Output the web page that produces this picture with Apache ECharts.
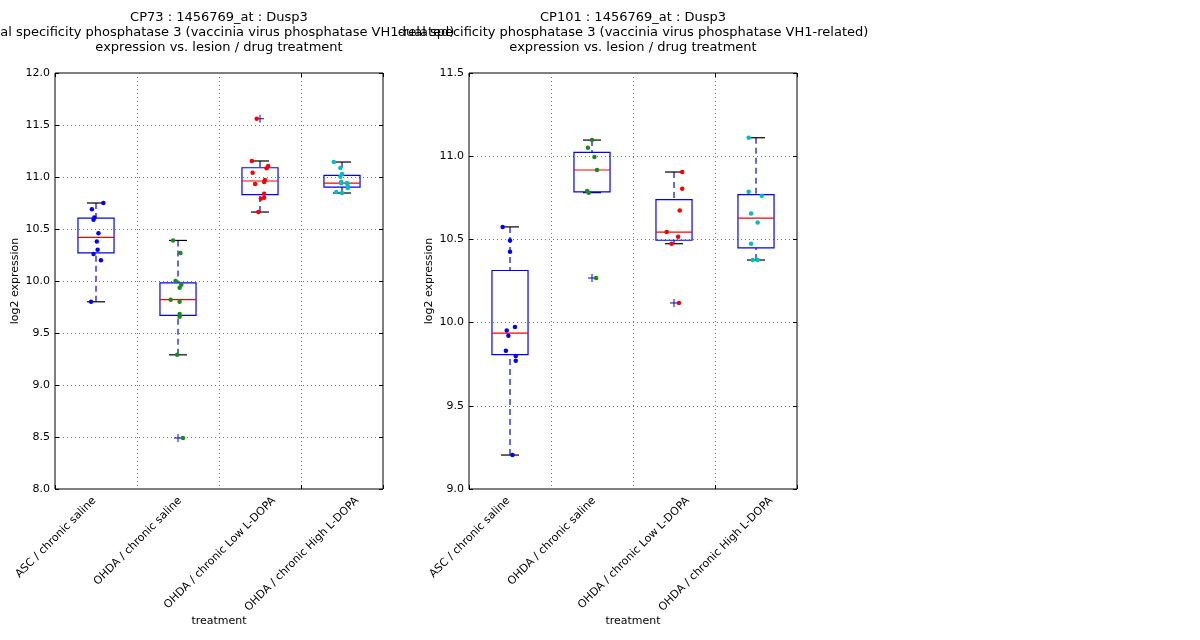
<!DOCTYPE html>
<html>
<head>
<meta charset="utf-8">
<script src="https://cdn.jsdelivr.net/npm/echarts@6/dist/echarts.min.js"></script>
<style>
  html, body { margin: 0; background: #fff; }
  #chart { width: 1200px; height: 640px; }
</style>
</head>
<body>
<div id="chart"></div>
<script>
const categories = ['ASC / chronic saline', 'OHDA / chronic saline', 'OHDA / chronic Low L-DOPA', 'OHDA / chronic High L-DOPA'];
const pointColors = ['#0000ff', '#1a8a1a', '#ff0000', '#00bfbf'];
const yTicksCp73 = [8, 12];
const yTicksCp101 = [9, 11.5];

// CP73 expression values, with horizontal jitter (fraction of a category)
const cp73Asc = [10.75, 10.69, 10.61, 10.59, 10.46, 10.38, 10.30, 10.26, 10.20, 9.80];
const cp73AscJit = [0.09, -0.05, -0.02, -0.03, 0.03, 0.01, 0.02, -0.03, 0.06, -0.06];
const cp73Saline = [10.39, 10.27, 10.00, 9.965, 9.935, 9.82, 9.80, 9.683, 9.657, 9.29, 8.49];
const cp73SalineJit = [-0.06, 0.03, -0.03, 0.04, 0.02, -0.09, 0.02, 0.02, 0.02, -0.01, 0.06];
const cp73Low = [11.56, 11.154, 11.106, 11.083, 11.042, 10.971, 10.952, 10.933, 10.84, 10.792, 10.80, 10.663];
const cp73LowJit = [-0.04, -0.10, 0.10, 0.08, -0.09, 0.06, 0.05, -0.06, 0.05, 0.01, 0.05, -0.02];
const cp73High = [11.144, 11.087, 11.029, 11.003, 10.955, 10.939, 10.942, 10.913, 10.894, 10.856, 10.846];
const cp73HighJit = [-0.10, -0.02, 0.0, -0.02, -0.01, -0.01, 0.06, 0.07, 0.07, -0.07, 0.0];

// CP101 expression values
const cp101Asc = [10.575, 10.494, 10.426, 9.974, 9.952, 9.921, 9.831, 9.799, 9.771, 9.204];
const cp101AscJit = [-0.09, 0.0, 0.0, 0.06, -0.04, -0.02, -0.05, 0.07, 0.07, 0.03];
const cp101Saline = [11.097, 11.051, 10.995, 10.917, 10.791, 10.781, 10.268];
const cp101SalineJit = [0.0, -0.05, 0.03, 0.06, -0.06, -0.04, 0.05];
const cp101Low = [10.905, 10.805, 10.673, 10.544, 10.516, 10.474, 10.118];
const cp101LowJit = [0.10, 0.10, 0.07, -0.09, 0.05, -0.03, 0.06];
const cp101High = [11.111, 10.787, 10.763, 10.655, 10.601, 10.474, 10.376, 10.376];
const cp101HighJit = [-0.09, -0.09, 0.07, -0.06, 0.02, -0.06, -0.04, 0.02];

const cp73 = [cp73Asc, cp73Saline, cp73Low, cp73High];
const cp73Jit = [cp73AscJit, cp73SalineJit, cp73LowJit, cp73HighJit];
const cp101 = [cp101Asc, cp101Saline, cp101Low, cp101High];
const cp101Jit = [cp101AscJit, cp101SalineJit, cp101LowJit, cp101HighJit];

const font = 'DejaVu Sans';
const plotW = 328, plotH = 416;

// matplotlib-like percentiles and whiskers
function pct(s, p) {
  const idx = (s.length - 1) * p;
  const lo = Math.floor(idx), hi = Math.ceil(idx);
  return s[lo] + (s[hi] - s[lo]) * (idx - lo);
}
function boxStats(vals) {
  const s = vals.slice().sort((a, b) => a - b);
  const q1 = pct(s, 0.25), med = pct(s, 0.5), q3 = pct(s, 0.75), iqr = q3 - q1;
  const inside = s.filter(v => v >= q1 - 1.5 * iqr && v <= q3 + 1.5 * iqr);
  const out = s.filter(v => v < q1 - 1.5 * iqr || v > q3 + 1.5 * iqr);
  return { q1, med, q3, lo: inside[0], hi: inside[inside.length - 1], out };
}

function renderBox(params, api) {
  const x = api.value(0);
  const bw = 0.22, cw = 0.11;
  const c = (dx, v) => api.coord([x + dx, v]);
  const lo = c(0, api.value(1)), q1 = c(0, api.value(2)), med = c(0, api.value(3));
  const q3 = c(0, api.value(4)), hi = c(0, api.value(5));
  const left = c(-bw, 0)[0], right = c(bw, 0)[0];
  const cl = c(-cw, 0)[0], cr = c(cw, 0)[0];
  const dash = { stroke: '#0000ff', lineWidth: 1.2, lineDash: [6, 4] };
  return {
    type: 'group',
    children: [
      { type: 'line', shape: { x1: hi[0], y1: hi[1], x2: q3[0], y2: q3[1] }, style: dash },
      { type: 'line', shape: { x1: lo[0], y1: lo[1], x2: q1[0], y2: q1[1] }, style: dash },
      { type: 'line', shape: { x1: cl, y1: hi[1], x2: cr, y2: hi[1] }, style: { stroke: '#000', lineWidth: 1.2 } },
      { type: 'line', shape: { x1: cl, y1: lo[1], x2: cr, y2: lo[1] }, style: { stroke: '#000', lineWidth: 1.2 } },
      { type: 'rect', shape: { x: left, y: q3[1], width: right - left, height: q1[1] - q3[1] },
        style: { fill: 'none', stroke: '#0000ff', lineWidth: 1.2 } },
      { type: 'line', shape: { x1: left, y1: med[1], x2: right, y2: med[1] }, style: { stroke: '#ff0000', lineWidth: 1.2 } }
    ]
  };
}

function renderPlus(params, api) {
  const p = api.coord([api.value(0), api.value(1)]);
  const s = 4;
  return {
    type: 'group',
    children: [
      { type: 'line', shape: { x1: p[0] - s, y1: p[1], x2: p[0] + s, y2: p[1] }, style: { stroke: '#0000ff', lineWidth: 1 } },
      { type: 'line', shape: { x1: p[0], y1: p[1] - s, x2: p[0], y2: p[1] + s }, style: { stroke: '#0000ff', lineWidth: 1 } }
    ]
  };
}

function panelSeries(groups, jitter, gi) {
  const boxes = [], outs = [], series = [];
  groups.forEach((vals, i) => {
    const st = boxStats(vals);
    boxes.push([i + 1, st.lo, st.q1, st.med, st.q3, st.hi]);
    st.out.forEach(v => outs.push([i + 1, v]));
  });
  series.push({ type: 'custom', xAxisIndex: gi * 3 + 1, yAxisIndex: gi * 2, renderItem: renderBox, data: boxes, z: 2, silent: true });
  series.push({ type: 'custom', xAxisIndex: gi * 3 + 1, yAxisIndex: gi * 2, renderItem: renderPlus, data: outs, z: 2, silent: true });
  groups.forEach((vals, i) => {
    series.push({
      type: 'scatter', xAxisIndex: gi * 3 + 1, yAxisIndex: gi * 2,
      symbolSize: 4.5, itemStyle: { color: pointColors[i], opacity: 1 }, z: 3,
      data: vals.map((v, k) => [i + 1 + jitter[i][k], v])
    });
  });
  return series;
}

// In the original figure the rotated tick labels are centred on the left
// edge of each category; place their right ends accordingly.
const measure = document.createElement('canvas').getContext('2d');
measure.font = '11px "' + font + '"';
const catW = plotW / categories.length;
const labelValues = categories.map((name, i) => {
  const ext = (measure.measureText(name).width + 11) * Math.SQRT1_2;
  return i + 0.5 + (ext / 2 - 3) / catW;
});

const labelStyle = { color: '#000', fontFamily: font, fontSize: 11 };
const gridLine = { show: true, lineStyle: { color: '#777', type: [1, 3], width: 1 } };
const innerTick = { show: true, inside: true, length: 4, lineStyle: { color: '#000' } };

function axesFor(gi, ticks) {
  const xs = [
    {
      type: 'category', gridIndex: gi, position: 'bottom', data: categories, boundaryGap: true,
      name: 'treatment', nameLocation: 'middle', nameGap: 127,
      nameTextStyle: labelStyle,
      axisLine: { show: false }, axisTick: innerTick, axisLabel: { show: false },
      splitLine: Object.assign({ interval: 0 }, gridLine)
    },
    {
      type: 'value', gridIndex: gi, position: 'bottom', min: 0.5, max: 4.5,
      axisLine: { show: false }, axisTick: { show: false }, splitLine: { show: false },
      axisLabel: Object.assign({
        rotate: 45, margin: 10, customValues: labelValues,
        formatter: v => categories[Math.floor(v - 0.5)] || ''
      }, labelStyle)
    },
    {
      type: 'category', gridIndex: gi, data: categories, position: 'top', boundaryGap: true,
      axisLine: { show: false }, axisLabel: { show: false }, axisTick: innerTick
    }
  ];
  const ys = [
    {
      type: 'value', gridIndex: gi, position: 'left', min: ticks[0], max: ticks[1], interval: 0.5,
      name: 'log2 expression', nameLocation: 'middle', nameGap: 34, nameTextStyle: labelStyle,
      axisLine: { show: false }, axisTick: innerTick,
      axisLabel: Object.assign({ formatter: v => v.toFixed(1), margin: 5 }, labelStyle),
      splitLine: gridLine
    },
    {
      type: 'value', gridIndex: gi, min: ticks[0], max: ticks[1], interval: 0.5, position: 'right',
      axisLine: { show: false }, axisLabel: { show: false }, splitLine: { show: false }, axisTick: innerTick
    }
  ];
  return { xs, ys };
}

const a0 = axesFor(0, yTicksCp73);
const a1 = axesFor(1, yTicksCp101);

const titleLine2 = 'dual specificity phosphatase 3 (vaccinia virus phosphatase VH1-related)';
function titleText(id) {
  return id + ' : 1456769_at : Dusp3\n' + titleLine2 + '\nexpression vs. lesion / drug treatment';
}

const option = {
  animation: false,
  backgroundColor: '#fff',
  grid: [
    { left: 55, top: 73, width: plotW, height: plotH, show: true, borderColor: '#000', borderWidth: 1, outerBoundsMode: 'none' },
    { left: 469, top: 73, width: plotW, height: plotH, show: true, borderColor: '#000', borderWidth: 1, outerBoundsMode: 'none' }
  ],
  xAxis: a0.xs.concat(a1.xs),
  yAxis: a0.ys.concat(a1.ys),
  graphic: [
    { type: 'text', x: 219, y: 10, z: 10,
      style: { text: titleText('CP73'), textAlign: 'center', textVerticalAlign: 'top', fontFamily: font, fontSize: 13, lineHeight: 15, fill: '#000' } },
    { type: 'text', x: 633, y: 10, z: 10,
      style: { text: titleText('CP101'), textAlign: 'center', textVerticalAlign: 'top', fontFamily: font, fontSize: 13, lineHeight: 15, fill: '#000' } }
  ],
  series: panelSeries(cp73, cp73Jit, 0).concat(panelSeries(cp101, cp101Jit, 1))
};

const chart = echarts.init(document.getElementById('chart'));
chart.setOption(option);
</script>
</body>
</html>
